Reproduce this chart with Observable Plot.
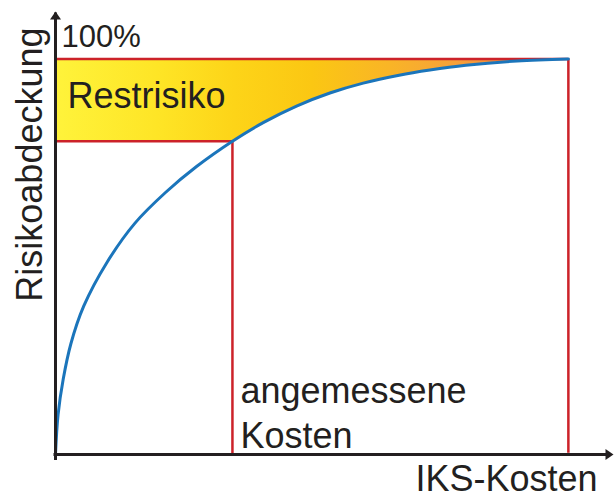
<!DOCTYPE html>
<html>
<head>
<meta charset="utf-8">
<script src="https://cdn.jsdelivr.net/npm/d3@7"></script>
<script src="https://cdn.jsdelivr.net/npm/@observablehq/plot@0.6"></script>
<style>
  html, body { margin: 0; padding: 0; background: #fff; }
</style>
</head>
<body>
<div id="chart"></div>
<script>
// ---- data ----
const costX  = [0, 0.05, 0.15, 0.3, 0.55, 1.0, 1.55, 2.15, 2.75, 3.45, 4.05, 4.7, 5.35, 6.0, 6.7, 7.3, 8.0, 9.0, 10];
const coverY = [0, 10, 19, 28, 37.5, 48.5, 58.5, 66.3, 72.8, 79.2, 83.9, 88.1, 91.4, 93.9, 95.9, 97.2, 98.4, 99.5, 100];
const adequateCost  = 3.45;   // "angemessene Kosten"
const adequateCover = 79.2;
const maxCost   = 10;
const fullCover = 100;
const axisMaxX = 10.88;
const axisMaxY = 112;
const labelTop      = ["100%"];
const labelResidual = ["Restrisiko"];
const labelAdequate = ["angemessene\nKosten"];
const labelX = ["IKS-Kosten"];
const labelY = ["Risikoabdeckung"];

const curve = costX.map((x, i) => ({x, y: coverY[i]}));

const ink = "#231f20";
const red = "#cc2229";
const blue = "#1b75bb";

const arrowHead = {
  draw(context) {
    context.moveTo(0, 0);
    context.lineTo(5.5, 8);
    context.lineTo(-5.5, 8);
    context.closePath();
  }
};

const gradientDefs = () => {
  const defs = d3.create("svg:defs");
  const g = defs.append("linearGradient").attr("id", "restGrad")
    .attr("x1", "0").attr("x2", "1").attr("y1", "0").attr("y2", "0");
  [[0, "#fff33b"], [0.2, "#fee526"], [0.35, "#fdd418"], [0.5, "#fbc713"],
   [0.65, "#f9b526"], [0.78, "#f6a13a"], [0.88, "#f08a3d"], [0.95, "#ea663c"], [1, "#e3443a"]]
    .forEach(([o, c]) => g.append("stop").attr("offset", o).attr("stop-color", c));
  return defs.node();
};

const font = "'Liberation Sans', Arial, Helvetica, sans-serif";

const chart = Plot.plot({
  width: 614,
  height: 497,
  marginLeft: 55,
  marginRight: 1,
  marginTop: 11,
  marginBottom: 43,
  x: {domain: [0, axisMaxX], axis: null},
  y: {domain: [0, axisMaxY], axis: null},
  style: {fontFamily: font, background: "#fff", color: ink, overflow: "visible"},
  marks: [
    gradientDefs,
    Plot.areaY(curve, {x: "x", y1: "y", y2: fullCover, curve: "catmull-rom", fill: "url(#restGrad)"}),
    Plot.rect([{}], {x1: 0, x2: adequateCost, y1: 0, y2: adequateCover, fill: "#fff"}),
    // red guide lines
    Plot.ruleY([fullCover], {x1: 0, x2: maxCost, stroke: red, strokeWidth: 2.5}),
    Plot.ruleX([maxCost], {y1: 0, y2: fullCover, stroke: red, strokeWidth: 2.5, insetTop: -1.2}),
    Plot.ruleY([adequateCover], {x1: 0, x2: adequateCost, stroke: red, strokeWidth: 2.5}),
    Plot.ruleX([adequateCost], {y1: 0, y2: adequateCover, stroke: red, strokeWidth: 2.5}),
    // curve
    Plot.line(curve, {x: "x", y: "y", curve: "catmull-rom", stroke: blue, strokeWidth: 3}),
    // axes
    Plot.ruleX([0], {y1: 0, y2: axisMaxY, stroke: ink, strokeWidth: 3, insetTop: 6, insetBottom: -1.5}),
    Plot.ruleY([0], {x1: 0, x2: axisMaxX, stroke: ink, strokeWidth: 3, insetRight: 6, insetLeft: -1.5}),
    Plot.dot([{x: 0, y: axisMaxY}], {x: "x", y: "y", symbol: arrowHead, fill: ink, stroke: "none", r: 1}),
    Plot.dot([{x: axisMaxX, y: 0}], {x: "x", y: "y", symbol: arrowHead, rotate: 90, fill: ink, stroke: "none", r: 1}),
    // texts
    Plot.text(labelTop, {x: 0, y: fullCover, text: d => d, textAnchor: "start", lineAnchor: "bottom",
      dx: 6, dy: -12, fontSize: 31, fill: ink}),
    Plot.text(labelResidual, {x: 0, y: fullCover, text: d => d, textAnchor: "start", lineAnchor: "bottom",
      dx: 12, dy: 49, fontSize: 36, fill: ink}),
    Plot.text(labelAdequate, {x: adequateCost, y: 0, text: d => d, textAnchor: "start", lineAnchor: "bottom",
      dx: 8, dy: -7, fontSize: 36, lineHeight: 1.25, fill: ink}),
    Plot.text(labelX, {x: axisMaxX, y: 0, text: d => d, textAnchor: "end", lineAnchor: "bottom",
      dx: -16, dy: 36, fontSize: 36, fill: ink}),
    Plot.text(labelY, {frameAnchor: "top-left", text: d => d, rotate: -90, textAnchor: "end",
      dx: -39, dy: 16, fontSize: 36, fill: ink})
  ]
});

document.getElementById("chart").appendChild(chart);
</script>
</body>
</html>
